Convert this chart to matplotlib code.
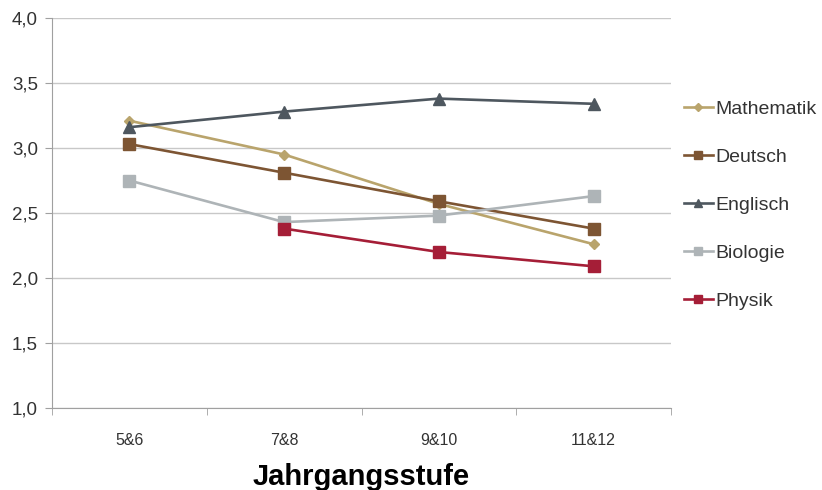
import numpy as np
import matplotlib.pyplot as plt
from matplotlib.ticker import FixedLocator, FuncFormatter

plt.rcParams["font.family"] = ["Liberation Sans", "DejaVu Sans"]

stufen = ["5&6", "7&8", "9&10", "11&12"]
mathematik = [3.21, 2.95, 2.57, 2.26]
deutsch = [3.03, 2.81, 2.59, 2.38]
englisch = [3.16, 3.28, 3.38, 3.34]
biologie = [2.75, 2.43, 2.48, 2.63]
physik = [np.nan, 2.38, 2.20, 2.09]

series = [
    ("Mathematik", mathematik, "#B9A46C", "D", 5),
    ("Deutsch", deutsch, "#7D5533", "s", 8),
    ("Englisch", englisch, "#4E575F", "^", 8),
    ("Biologie", biologie, "#AEB4B7", "s", 8),
    ("Physik", physik, "#A51E37", "s", 8),
]

fig = plt.figure(figsize=(8.22, 4.90), dpi=100)
ax = fig.add_axes([52 / 822, 1 - 408 / 490, 619 / 822, 390 / 490])

x = np.arange(len(stufen))
for name, vals, col, mk, ms in series:
    ax.plot(x, vals, color=col, linewidth=1.9, marker=mk, markersize=ms,
            label=name, zorder=3)

ax.set_xlim(-0.5, len(stufen) - 0.5)
ax.set_ylim(1.0, 4.0)
ax.set_yticks(np.arange(1.0, 4.01, 0.5))
ax.yaxis.set_major_formatter(FuncFormatter(lambda v, p: f"{v:.1f}".replace(".", ",")))
ax.set_xticks(x)
ax.set_xticklabels(stufen, fontsize=11.5, color="#333333")
ax.xaxis.set_minor_locator(FixedLocator(np.arange(-0.5, len(stufen), 1.0)))
ax.tick_params(axis="x", which="major", length=0, pad=18)
ax.tick_params(axis="x", which="minor", length=5, color="#A0A0A0")
ax.tick_params(axis="y", length=5, color="#A0A0A0", labelsize=13.5,
               labelcolor="#333333", pad=5)
ax.grid(axis="y", color="#C8C8C8", linewidth=1)
ax.set_axisbelow(True)
for s in ["top", "right"]:
    ax.spines[s].set_visible(False)
for s in ["left", "bottom"]:
    ax.spines[s].set_color("#A0A0A0")

ax.set_xlabel("Jahrgangsstufe", fontsize=21, fontweight="bold", labelpad=11)

fig.legend(loc="upper left", bbox_to_anchor=(666 / 822, 1 - 83 / 490),
           frameon=False, fontsize=14, labelspacing=1.56, handlelength=1.5,
           handletextpad=0.15, labelcolor="#333333", markerscale=0.8)

fig.savefig("out.png", dpi=100)
